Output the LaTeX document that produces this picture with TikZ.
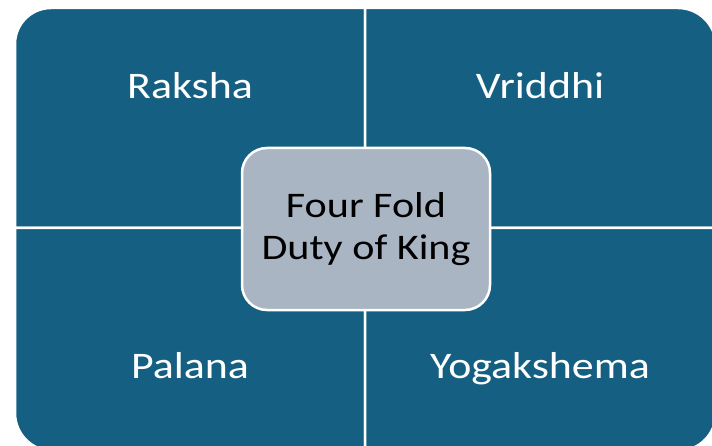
\documentclass[tikz,border=0pt]{standalone}
\usepackage{fontspec}
\setmainfont{Carlito}
\newfontfamily\widefont[FakeStretch=1.17]{Carlito}
\definecolor{quadblue}{HTML}{156082}
\definecolor{centerfill}{HTML}{A9B5C3}
\begin{document}
\begin{tikzpicture}[x=1pt,y=1pt,
  quad/.style={fill=quadblue,draw=white,line width=2.5pt},
  quadlabel/.style={text=white,font=\widefont\fontsize{37.5}{42}\selectfont,inner sep=0pt,anchor=base},
  centerbox/.style={fill=centerfill,draw=white,line width=2.5pt,rounded corners=25pt,
     minimum width=248pt,minimum height=162pt,align=center,
     font=\widefont\fontsize{36}{42.7}\selectfont,text=black}]
\useasboundingbox (0,0) rectangle (712,445);
\clip (0,0) rectangle (712,445);
% quadrants
\path[quad] (15,217) -- (15,437-36) arc[start angle=180,end angle=90,radius=36] -- (365,437) -- (365,217) -- cycle;
\path[quad] (365,217) -- (365,437) -- (716-38,437) arc[start angle=90,end angle=0,radius=38] -- (716,217) -- cycle;
\path[quad] (15,217) -- (365,217) -- (365,-6) -- (15+38,-6) arc[start angle=270,end angle=180,radius=38] -- cycle;
\path[quad] (365,217) -- (716,217) -- (716,-6+38) arc[start angle=0,end angle=-90,radius=38] -- (365,-6) -- cycle;
% labels
\node[quadlabel] (raksha) at (190,346) {Raksha};
\node[quadlabel] (vriddhi) at (540,346) {Vriddhi};
\node[quadlabel] (palana) at (190,67) {Palana};
\node[quadlabel] (yoga) at (540,67) {Yogakshema};
% center
\node[centerbox] (center) at (366,216) {Four Fold\\Duty of King};
\end{tikzpicture}
\end{document}
